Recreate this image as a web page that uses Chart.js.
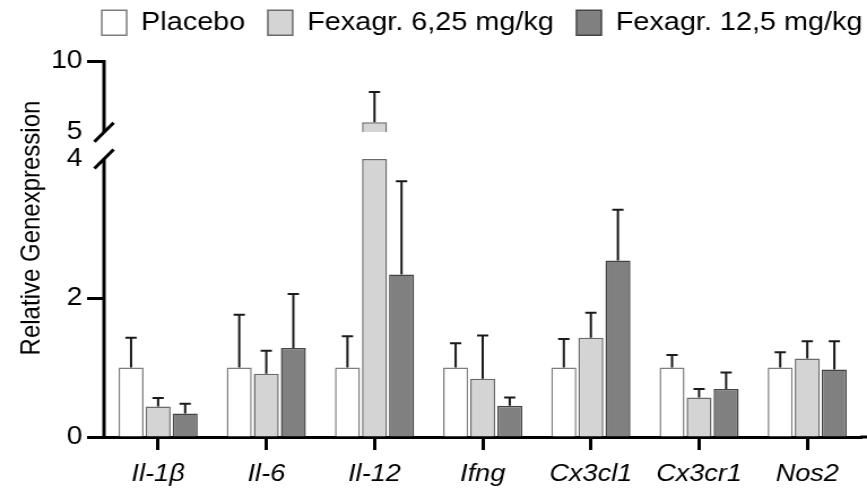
<!DOCTYPE html>
<html>
<head>
<meta charset="utf-8">
<script src="https://cdn.jsdelivr.net/npm/chart.js@4.4.1/dist/chart.umd.min.js"></script>
<style>
  html, body { margin: 0; padding: 0; background: #fff; overflow: hidden; }
  /* the reference is slightly stretched sideways, so the canvas is too */
  #wrap { width: 767px; height: 488px; transform: scaleX(1.1304); transform-origin: 0 0; }
</style>
</head>
<body>
<div id="wrap"><canvas id="chart" width="767" height="488"></canvas></div>
<script>
const genes = ["Il-1β", "Il-6", "Il-12", "Ifng", "Cx3cl1", "Cx3cr1", "Nos2"];

const placebo = [1.0, 1.0, 1.0, 1.0, 1.0, 1.0, 1.0];
const placeboSd = [0.43, 0.76, 0.45, 0.35, 0.41, 0.18, 0.22];
const fex625 = [0.44, 0.91, 5.7, 0.84, 1.43, 0.57, 1.13];
const fex625Sd = [0.12, 0.33, 2.14, 0.62, 0.36, 0.12, 0.25];
const fex125 = [0.34, 1.28, 2.34, 0.45, 2.54, 0.69, 0.97];
const fex125Sd = [0.14, 0.78, 1.34, 0.12, 0.73, 0.24, 0.41];

const lowerTicks = [0, 2, 4];
const upperTicks = [5, 10];
const lowMax = 4;
const upMin = 5;
const upMax = 10;

const series = [
  { label: "Placebo", values: placebo, sd: placeboSd, fill: "#ffffff", border: "#7d7d7d" },
  { label: "Fexagr. 6,25 mg/kg", values: fex625, sd: fex625Sd, fill: "#d4d4d4", border: "#6a6a6a" },
  { label: "Fexagr. 12,5 mg/kg", values: fex125, sd: fex125Sd, fill: "#808080", border: "#444444" },
];

const font = "'Liberation Sans', Arial, sans-serif";
const axisW = 92;

// bars below the break
const datasets = series.map((s, i) => ({
  label: s.label,
  data: s.values.map(v => Math.min(v, lowMax)),
  yAxisID: "y",
  stack: "s" + i,
  backgroundColor: s.fill,
  borderColor: s.border,
  borderWidth: 1.5,
}));

// parts of bars above the break, same slot as their series
series.forEach((s, i) => {
  if (s.values.some(v => v > lowMax)) {
    datasets.push({
      label: s.label,
      data: s.values.map(v => (v > lowMax ? [upMin, v] : null)),
      yAxisID: "yTop",
      stack: "s" + i,
      backgroundColor: s.fill,
      borderColor: s.border,
      borderWidth: 1.5,
    });
  }
});

const errorBars = {
  id: "errorBars",
  afterDatasetsDraw(chart) {
    const ctx = chart.ctx;
    const low = chart.scales.y;
    const top = chart.scales.yTop;
    ctx.save();
    ctx.strokeStyle = "#1a1a1a";
    ctx.lineWidth = 2;
    series.forEach((s, di) => {
      const meta = chart.getDatasetMeta(di);
      s.values.forEach((v, i) => {
        const scale = v > lowMax ? top : low;
        const x = meta.data[i].x;
        const y0 = scale.getPixelForValue(v);
        const y1 = scale.getPixelForValue(v + s.sd[i]);
        ctx.beginPath();
        ctx.moveTo(x, y0);
        ctx.lineTo(x, y1);
        ctx.moveTo(x - 5, y1);
        ctx.lineTo(x + 5, y1);
        ctx.stroke();
      });
    });
    ctx.restore();
  },
};

// broken y axis: two axis lines, the slashes and the title
const axisBreak = {
  id: "axisBreak",
  afterLayout(chart) {
    // legend sits a bit higher and further right than chart.js puts it
    chart.legend.top -= 16;
    chart.legend.right = chart.width + 16;
  },
  afterDraw(chart) {
    const ctx = chart.ctx;
    const low = chart.scales.y;
    const top = chart.scales.yTop;
    const area = chart.chartArea;
    const x = area.left;
    const yZero = low.getPixelForValue(0);
    const yFour = low.getPixelForValue(lowMax);
    const yFive = top.getPixelForValue(upMin);
    const yTen = top.getPixelForValue(upMax);
    ctx.save();
    ctx.fillStyle = "#000";
    ctx.fillRect(x - 1.5, yFour, 3, yZero - yFour);
    ctx.fillRect(x - 1.5, yTen - 1.5, 3, yFive - yTen + 1.5);
    // x axis line runs on to the right edge
    ctx.fillRect(area.right - 1, yZero - 1.5, chart.width - area.right + 1, 3);
    ctx.strokeStyle = "#000";
    ctx.lineWidth = 3;
    [yFive, yFour].forEach(y => {
      ctx.beginPath();
      ctx.moveTo(x - 8.5, y + 9.5);
      ctx.lineTo(x + 8.5, y - 9.5);
      ctx.stroke();
    });
    ctx.font = "24px " + font;
    ctx.textAlign = "center";
    ctx.textBaseline = "middle";
    ctx.translate(28, 228);
    ctx.rotate(-Math.PI / 2);
    ctx.fillText("Relative Genexpression", 0, 0);
    ctx.restore();
  },
};

const hideAt = v => ctx => (ctx.tick && ctx.tick.value === v ? "rgba(0,0,0,0)" : "#000");

new Chart(document.getElementById("chart"), {
  type: "bar",
  data: { labels: genes, datasets: datasets },
  options: {
    responsive: false,
    animation: false,
    devicePixelRatio: 1,
    categoryPercentage: 0.75,
    barPercentage: 0.925,
    layout: { padding: { top: 6, right: 5, bottom: -10, left: 0 } },
    plugins: {
      tooltip: { enabled: false },
      legend: {
        position: "top",
        align: "end",
        labels: {
          filter: item => item.datasetIndex < series.length,
          color: "#000",
          font: { family: font, size: 25.5 },
          boxWidth: 22,
          boxHeight: 25,
          padding: 20,
        },
      },
    },
    scales: {
      x: {
        type: "category",
        position: "bottom",
        grid: { offset: false, drawOnChartArea: false, tickLength: 13, tickWidth: 3, color: "#000" },
        border: { width: 3, color: "#000" },
        ticks: { color: "#000", font: { family: font, size: 24, style: "italic", lineHeight: 1 }, padding: 12 },
      },
      y: {
        position: "left",
        stack: "v",
        stackWeight: 279,
        stacked: false,
        min: 0,
        max: lowMax,
        afterBuildTicks: s => { s.ticks = lowerTicks.map(v => ({ value: v })); },
        afterFit: s => { s.width = axisW; },
        grid: { drawOnChartArea: false, tickLength: 15, tickWidth: 3, color: hideAt(lowMax) },
        border: { display: false },
        ticks: { color: "#000", font: { family: font, size: 25 }, padding: 4 },
      },
      yGap: {
        position: "left",
        stack: "v",
        stackWeight: 27,
        min: 0,
        max: 1,
        afterFit: s => { s.width = axisW; },
        grid: { display: false },
        border: { display: false },
        ticks: { display: false },
      },
      yTop: {
        position: "left",
        stack: "v",
        stackWeight: 71,
        stacked: false,
        min: upMin,
        max: upMax,
        afterBuildTicks: s => { s.ticks = upperTicks.map(v => ({ value: v })); },
        afterFit: s => { s.width = axisW; },
        grid: { drawOnChartArea: false, tickLength: 15, tickWidth: 3, color: hideAt(upMin) },
        border: { display: false },
        ticks: { color: "#000", font: { family: font, size: 25 }, padding: 4 },
      },
    },
  },
  plugins: [errorBars, axisBreak],
});
</script>
</body>
</html>
